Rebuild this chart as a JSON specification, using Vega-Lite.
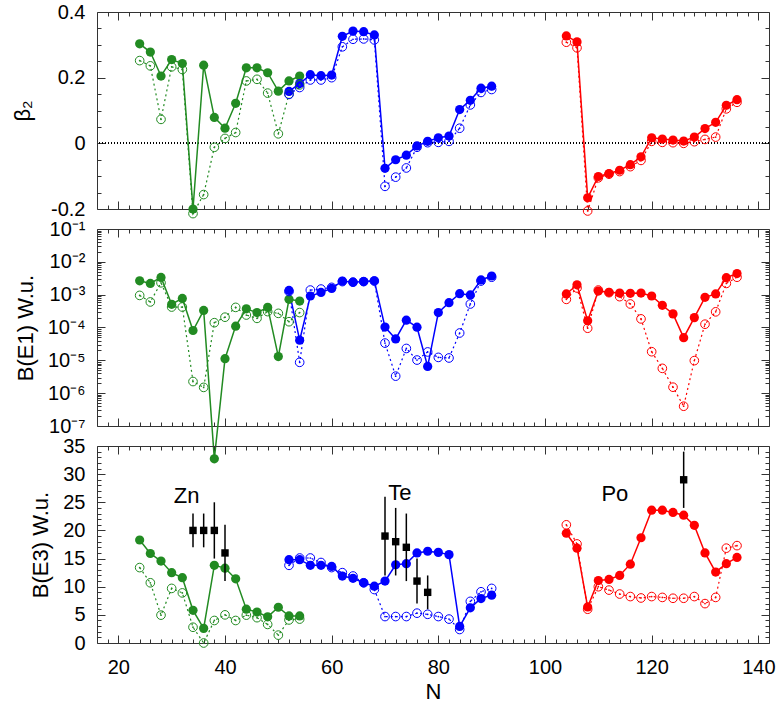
{
  "$schema": "https://vega.github.io/schema/vega-lite/v6.json",
  "padding": {"left": 11, "top": 1, "right": 5, "bottom": 5},
  "background": "white",
  "spacing": 20,
  "bounds": "flush",
  "config": {
    "view": {"stroke": "#333", "strokeWidth": 1},
    "axis": {"labelFont": "Liberation Sans", "titleFont": "Liberation Sans", "labelFontSize": 20, "titleFontSize": 22, "titleFontWeight": "normal", "labelColor": "black", "titleColor": "black", "tickColor": "#333", "domain": false, "grid": false},
    "text": {"font": "Liberation Sans"}
  },
  "datasets": {
    "calc": [
      {"iso":"Zn","t":"s","N":24,"b2":0.303,"e1":2.65e-3,"e3":18.3},
      {"iso":"Zn","t":"s","N":26,"b2":0.278,"e1":2.2e-3,"e3":15.9},
      {"iso":"Zn","t":"s","N":28,"b2":0.205,"e1":3.35e-3,"e3":14.55},
      {"iso":"Zn","t":"s","N":30,"b2":0.255,"e1":5.1e-4,"e3":12.5},
      {"iso":"Zn","t":"s","N":32,"b2":0.243,"e1":7.7e-4,"e3":11.6},
      {"iso":"Zn","t":"s","N":34,"b2":-0.2,"e1":8.1e-5,"e3":5.8},
      {"iso":"Zn","t":"s","N":36,"b2":0.238,"e1":3.3e-4,"e3":2.6},
      {"iso":"Zn","t":"s","N":38,"b2":0.079,"e1":1e-8,"e3":13.8},
      {"iso":"Zn","t":"s","N":40,"b2":0.046,"e1":1.12e-5,"e3":13.3},
      {"iso":"Zn","t":"s","N":42,"b2":0.122,"e1":1.1e-4,"e3":11.4},
      {"iso":"Zn","t":"s","N":44,"b2":0.23,"e1":3.7e-4,"e3":6.0},
      {"iso":"Zn","t":"s","N":46,"b2":0.23,"e1":2.85e-4,"e3":5.5},
      {"iso":"Zn","t":"s","N":48,"b2":0.215,"e1":4.1e-4,"e3":4.65},
      {"iso":"Zn","t":"s","N":50,"b2":0.159,"e1":1.3e-5,"e3":6.35},
      {"iso":"Zn","t":"s","N":52,"b2":0.19,"e1":7.2e-4,"e3":4.8},
      {"iso":"Zn","t":"s","N":54,"b2":0.205,"e1":6.4e-4,"e3":4.8},
      {"iso":"Zn","t":"o","N":24,"b2":0.252,"e1":9.5e-4,"e3":13.4},
      {"iso":"Zn","t":"o","N":26,"b2":0.236,"e1":6.0e-4,"e3":10.7},
      {"iso":"Zn","t":"o","N":28,"b2":0.073,"e1":2.3e-3,"e3":4.95},
      {"iso":"Zn","t":"o","N":30,"b2":0.233,"e1":4.2e-4,"e3":9.7},
      {"iso":"Zn","t":"o","N":32,"b2":0.225,"e1":4.2e-4,"e3":8.9},
      {"iso":"Zn","t":"o","N":34,"b2":-0.214,"e1":2.26e-6,"e3":2.8},
      {"iso":"Zn","t":"o","N":36,"b2":-0.156,"e1":1.5e-6,"e3":0.0},
      {"iso":"Zn","t":"o","N":38,"b2":-0.012,"e1":1.4e-4,"e3":4.0},
      {"iso":"Zn","t":"o","N":40,"b2":0.015,"e1":2.06e-4,"e3":5.0},
      {"iso":"Zn","t":"o","N":42,"b2":0.033,"e1":4.1e-4,"e3":4.0},
      {"iso":"Zn","t":"o","N":44,"b2":0.19,"e1":2.4e-4,"e3":4.95},
      {"iso":"Zn","t":"o","N":46,"b2":0.195,"e1":1.9e-4,"e3":4.5},
      {"iso":"Zn","t":"o","N":48,"b2":0.153,"e1":3.05e-4,"e3":3.3},
      {"iso":"Zn","t":"o","N":50,"b2":0.029,"e1":2.7e-4,"e3":1.4},
      {"iso":"Zn","t":"o","N":52,"b2":0.15,"e1":1.5e-4,"e3":4.1},
      {"iso":"Zn","t":"o","N":54,"b2":0.178,"e1":2.85e-4,"e3":4.25},
      {"iso":"Te","t":"s","N":52,"b2":0.158,"e1":1.35e-3,"e3":14.8},
      {"iso":"Te","t":"s","N":54,"b2":0.182,"e1":4.1e-5,"e3":14.8},
      {"iso":"Te","t":"s","N":56,"b2":0.209,"e1":9.1e-4,"e3":13.8},
      {"iso":"Te","t":"s","N":58,"b2":0.206,"e1":1.17e-3,"e3":13.8},
      {"iso":"Te","t":"s","N":60,"b2":0.208,"e1":1.55e-3,"e3":13.6},
      {"iso":"Te","t":"s","N":62,"b2":0.326,"e1":2.6e-3,"e3":11.9},
      {"iso":"Te","t":"s","N":64,"b2":0.342,"e1":2.4e-3,"e3":11.5},
      {"iso":"Te","t":"s","N":66,"b2":0.34,"e1":2.5e-3,"e3":10.7},
      {"iso":"Te","t":"s","N":68,"b2":0.33,"e1":2.65e-3,"e3":10.1},
      {"iso":"Te","t":"s","N":70,"b2":-0.076,"e1":1.03e-4,"e3":11.0},
      {"iso":"Te","t":"s","N":72,"b2":-0.05,"e1":4.5e-5,"e3":13.9},
      {"iso":"Te","t":"s","N":74,"b2":-0.036,"e1":1.67e-4,"e3":14.1},
      {"iso":"Te","t":"s","N":76,"b2":-0.008,"e1":1.02e-4,"e3":16.0},
      {"iso":"Te","t":"s","N":78,"b2":0.006,"e1":6.5e-6,"e3":16.3},
      {"iso":"Te","t":"s","N":80,"b2":0.017,"e1":2.85e-4,"e3":16.1},
      {"iso":"Te","t":"s","N":82,"b2":0.022,"e1":5.7e-4,"e3":15.7},
      {"iso":"Te","t":"s","N":84,"b2":0.103,"e1":1.07e-3,"e3":2.95},
      {"iso":"Te","t":"s","N":86,"b2":0.131,"e1":9.8e-4,"e3":6.25},
      {"iso":"Te","t":"s","N":88,"b2":0.168,"e1":2.8e-3,"e3":7.9},
      {"iso":"Te","t":"s","N":90,"b2":0.174,"e1":3.7e-3,"e3":8.5},
      {"iso":"Te","t":"o","N":52,"b2":0.149,"e1":1.25e-3,"e3":13.8},
      {"iso":"Te","t":"o","N":54,"b2":0.17,"e1":8.7e-6,"e3":15.1},
      {"iso":"Te","t":"o","N":56,"b2":0.193,"e1":1.38e-3,"e3":15.1},
      {"iso":"Te","t":"o","N":58,"b2":0.193,"e1":1.48e-3,"e3":14.3},
      {"iso":"Te","t":"o","N":60,"b2":0.2,"e1":1.67e-3,"e3":13.4},
      {"iso":"Te","t":"o","N":62,"b2":0.294,"e1":2.5e-3,"e3":12.5},
      {"iso":"Te","t":"o","N":64,"b2":0.317,"e1":2.4e-3,"e3":11.9},
      {"iso":"Te","t":"o","N":66,"b2":0.318,"e1":2.5e-3,"e3":10.7},
      {"iso":"Te","t":"o","N":68,"b2":0.315,"e1":2.6e-3,"e3":9.5},
      {"iso":"Te","t":"o","N":70,"b2":-0.131,"e1":3.35e-5,"e3":4.7},
      {"iso":"Te","t":"o","N":72,"b2":-0.103,"e1":3.3e-6,"e3":4.7},
      {"iso":"Te","t":"o","N":74,"b2":-0.075,"e1":2.3e-5,"e3":4.7},
      {"iso":"Te","t":"o","N":76,"b2":-0.012,"e1":1.02e-5,"e3":5.3},
      {"iso":"Te","t":"o","N":78,"b2":0.002,"e1":1.8e-5,"e3":5.1},
      {"iso":"Te","t":"o","N":80,"b2":0.003,"e1":1.23e-5,"e3":4.7},
      {"iso":"Te","t":"o","N":82,"b2":0.006,"e1":1.18e-5,"e3":4.25},
      {"iso":"Te","t":"o","N":84,"b2":0.046,"e1":6.8e-5,"e3":2.4},
      {"iso":"Te","t":"o","N":86,"b2":0.117,"e1":5.2e-4,"e3":7.4},
      {"iso":"Te","t":"o","N":88,"b2":0.155,"e1":2.6e-3,"e3":9.1},
      {"iso":"Te","t":"o","N":90,"b2":0.164,"e1":3.4e-3,"e3":9.7},
      {"iso":"Po","t":"s","N":104,"b2":0.327,"e1":1.05e-3,"e3":19.5},
      {"iso":"Po","t":"s","N":106,"b2":0.309,"e1":2.0e-3,"e3":16.85},
      {"iso":"Po","t":"s","N":108,"b2":-0.166,"e1":1.6e-4,"e3":6.4},
      {"iso":"Po","t":"s","N":110,"b2":-0.101,"e1":1.29e-3,"e3":11.1},
      {"iso":"Po","t":"s","N":112,"b2":-0.092,"e1":1.18e-3,"e3":11.3},
      {"iso":"Po","t":"s","N":114,"b2":-0.082,"e1":1.12e-3,"e3":12.0},
      {"iso":"Po","t":"s","N":116,"b2":-0.065,"e1":1.1e-3,"e3":14.0},
      {"iso":"Po","t":"s","N":118,"b2":-0.041,"e1":1.12e-3,"e3":18.7},
      {"iso":"Po","t":"s","N":120,"b2":0.017,"e1":9.1e-4,"e3":23.6},
      {"iso":"Po","t":"s","N":122,"b2":0.013,"e1":4.75e-4,"e3":23.6},
      {"iso":"Po","t":"s","N":124,"b2":0.01,"e1":2.6e-4,"e3":23.2},
      {"iso":"Po","t":"s","N":126,"b2":0.007,"e1":4.9e-5,"e3":22.7},
      {"iso":"Po","t":"s","N":128,"b2":0.019,"e1":2.0e-4,"e3":20.9},
      {"iso":"Po","t":"s","N":130,"b2":0.045,"e1":8.3e-4,"e3":16.0},
      {"iso":"Po","t":"s","N":132,"b2":0.064,"e1":1.05e-3,"e3":12.6},
      {"iso":"Po","t":"s","N":134,"b2":0.116,"e1":3.3e-3,"e3":14.1},
      {"iso":"Po","t":"s","N":136,"b2":0.133,"e1":4.4e-3,"e3":15.2},
      {"iso":"Po","t":"o","N":104,"b2":0.308,"e1":7.2e-4,"e3":21.0},
      {"iso":"Po","t":"o","N":106,"b2":0.291,"e1":1.6e-3,"e3":17.6},
      {"iso":"Po","t":"o","N":108,"b2":-0.206,"e1":9.5e-5,"e3":6.0},
      {"iso":"Po","t":"o","N":110,"b2":-0.105,"e1":1.38e-3,"e3":10.0},
      {"iso":"Po","t":"o","N":112,"b2":-0.094,"e1":1.15e-3,"e3":9.4},
      {"iso":"Po","t":"o","N":114,"b2":-0.086,"e1":8.7e-4,"e3":8.7},
      {"iso":"Po","t":"o","N":116,"b2":-0.071,"e1":5.2e-4,"e3":8.25},
      {"iso":"Po","t":"o","N":118,"b2":-0.052,"e1":1.83e-4,"e3":8.0},
      {"iso":"Po","t":"o","N":120,"b2":0.006,"e1":1.83e-5,"e3":8.25},
      {"iso":"Po","t":"o","N":122,"b2":0.003,"e1":5.7e-6,"e3":8.1},
      {"iso":"Po","t":"o","N":124,"b2":0.002,"e1":1.52e-6,"e3":7.95},
      {"iso":"Po","t":"o","N":126,"b2":0.0,"e1":4.0e-7,"e3":7.95},
      {"iso":"Po","t":"o","N":128,"b2":0.005,"e1":9.8e-6,"e3":8.25},
      {"iso":"Po","t":"o","N":130,"b2":0.012,"e1":1.26e-4,"e3":7.0},
      {"iso":"Po","t":"o","N":132,"b2":0.019,"e1":3.0e-4,"e3":8.1},
      {"iso":"Po","t":"o","N":134,"b2":0.105,"e1":2.2e-3,"e3":16.85},
      {"iso":"Po","t":"o","N":136,"b2":0.125,"e1":3.4e-3,"e3":17.3}
    ],
    "exp": [
      {"N":34,"v":20,"lo":17,"hi":23},
      {"N":36,"v":20,"lo":17,"hi":23},
      {"N":38,"v":20,"lo":15,"hi":25},
      {"N":40,"v":16,"lo":11,"hi":21},
      {"N":70,"v":19,"lo":12,"hi":26},
      {"N":72,"v":18,"lo":12,"hi":24},
      {"N":74,"v":17,"lo":11,"hi":23},
      {"N":76,"v":11,"lo":7,"hi":15},
      {"N":78,"v":9,"lo":6,"hi":12},
      {"N":126,"v":29,"lo":24,"hi":34}
    ],
    "lab": [
      {"N":32.8,"v":26.1,"txt":"Zn"},
      {"N":72.8,"v":26.6,"txt":"Te"},
      {"N":113.1,"v":26.4,"txt":"Po"}
    ]
  },
  "vconcat": [
    {
      "width": 672, "height": 197,
      "data": {"name": "calc"},
      "resolve": {"axis": {"x": "independent", "y": "independent"}},
      "layer": [
        {"mark": {"type": "rule", "strokeDash": [1, 2], "color": "black", "strokeWidth": 1},
         "encoding": {"y": {"datum": 0, "type": "quantitative", "axis": null}}},
        {"transform": [{"filter": "datum.t == 's'"}],
         "mark": {"type": "line", "strokeWidth": 1.5},
         "encoding": {
           "x": {"field": "N", "type": "quantitative", "scale": {"domain": [16, 142], "nice": false, "zero": false},
                 "axis": {"orient": "bottom", "values": [20,40,60,80,100,120,140], "tickSize": -8, "labels": false, "title": null}},
           "y": {"field": "b2", "type": "quantitative", "scale": {"domain": [-0.2, 0.4], "nice": false, "zero": false},
                 "axis": {"orient": "left", "values": [-0.2,0,0.2,0.4], "tickSize": -8, "labelPadding": 20, "title": "β₂", "titlePadding": 16,
                          "labelExpr": "datum.value == 0 ? '0' : (datum.value < 0 ? '-' + format(-datum.value, '.1f') : format(datum.value, '.1f'))"}},
           "color": {"field": "iso", "type": "nominal", "scale": {"domain": ["Zn","Te","Po"], "range": ["#228B22","#0000FF","#FF0000"]}, "legend": null}
         }},
        {"transform": [{"filter": "datum.t == 'o'"}],
         "mark": {"type": "line", "strokeWidth": 1.2, "strokeDash": [2, 3]},
         "encoding": {
           "x": {"field": "N", "type": "quantitative",
                 "axis": {"orient": "bottom", "values": [18,20,22,24,26,28,30,32,34,36,38,40,42,44,46,48,50,52,54,56,58,60,62,64,66,68,70,72,74,76,78,80,82,84,86,88,90,92,94,96,98,100,102,104,106,108,110,112,114,116,118,120,122,124,126,128,130,132,134,136,138,140], "tickSize": -4, "labels": false, "title": null}},
           "y": {"field": "b2", "type": "quantitative",
                 "axis": {"orient": "left", "values": [-0.15,-0.1,-0.05,0.05,0.1,0.15,0.25,0.3,0.35], "tickSize": -4, "labels": false, "title": null}},
           "color": {"field": "iso", "type": "nominal", "legend": null}
         }},
        {"transform": [{"filter": "datum.t == 's'"}],
         "mark": {"type": "point", "shape": "circle", "filled": true, "size": 85, "opacity": 1},
         "encoding": {
           "x": {"field": "N", "type": "quantitative",
                 "axis": {"orient": "top", "values": [20,40,60,80,100,120,140], "tickSize": -8, "labels": false, "title": null}},
           "y": {"field": "b2", "type": "quantitative",
                 "axis": {"orient": "right", "values": [-0.2,0,0.2,0.4], "tickSize": -8, "labels": false, "title": null}},
           "color": {"field": "iso", "type": "nominal", "legend": null}
         }},
        {"transform": [{"filter": "datum.t == 'o'"}],
         "mark": {"type": "point", "shape": "circle", "filled": false, "size": 75, "strokeWidth": 1, "opacity": 1},
         "encoding": {
           "x": {"field": "N", "type": "quantitative",
                 "axis": {"orient": "top", "values": [18,20,22,24,26,28,30,32,34,36,38,40,42,44,46,48,50,52,54,56,58,60,62,64,66,68,70,72,74,76,78,80,82,84,86,88,90,92,94,96,98,100,102,104,106,108,110,112,114,116,118,120,122,124,126,128,130,132,134,136,138,140], "tickSize": -4, "labels": false, "title": null}},
           "y": {"field": "b2", "type": "quantitative",
                 "axis": {"orient": "right", "values": [-0.15,-0.1,-0.05,0.05,0.1,0.15,0.25,0.3,0.35], "tickSize": -4, "labels": false, "title": null}},
           "color": {"field": "iso", "type": "nominal", "legend": null}
         }},
        {"transform": [{"filter": "datum.t == 'o'"}],
         "mark": {"type": "circle", "size": 3, "opacity": 1},
         "encoding": {
           "x": {"field": "N", "type": "quantitative", "axis": null},
           "y": {"field": "b2", "type": "quantitative", "axis": null},
           "color": {"field": "iso", "type": "nominal", "legend": null}
         }}
      ]
    },
    {
      "width": 672, "height": 197,
      "data": {"name": "calc"},
      "resolve": {"axis": {"x": "independent", "y": "independent"}},
      "layer": [
        {"transform": [{"filter": "datum.t == 's'"}],
         "mark": {"type": "line", "strokeWidth": 1.5},
         "encoding": {
           "x": {"field": "N", "type": "quantitative", "scale": {"domain": [16, 142], "nice": false, "zero": false},
                 "axis": {"orient": "bottom", "values": [20,40,60,80,100,120,140], "tickSize": -8, "labels": false, "title": null}},
           "y": {"field": "e1", "type": "quantitative", "scale": {"type": "log", "domain": [1e-7, 1e-1], "nice": false},
                 "axis": {"orient": "left", "values": [1e-7,1e-6,1e-5,1e-4,1e-3,1e-2,1e-1], "tickSize": -8, "labelPadding": 20, "title": "B(E1) W.u.", "titlePadding": 10,
                          "labelExpr": "['10⁻⁷','10⁻⁶','10⁻⁵','10⁻⁴','10⁻³','10⁻²','10⁻¹'][round(log(datum.value)/LN10) + 7]"}},
           "color": {"field": "iso", "type": "nominal", "scale": {"domain": ["Zn","Te","Po"], "range": ["#228B22","#0000FF","#FF0000"]}, "legend": null}
         }},
        {"transform": [{"filter": "datum.t == 'o'"}],
         "mark": {"type": "line", "strokeWidth": 1.2, "strokeDash": [2, 3]},
         "encoding": {
           "x": {"field": "N", "type": "quantitative",
                 "axis": {"orient": "bottom", "values": [18,20,22,24,26,28,30,32,34,36,38,40,42,44,46,48,50,52,54,56,58,60,62,64,66,68,70,72,74,76,78,80,82,84,86,88,90,92,94,96,98,100,102,104,106,108,110,112,114,116,118,120,122,124,126,128,130,132,134,136,138,140], "tickSize": -4, "labels": false, "title": null}},
           "y": {"field": "e1", "type": "quantitative",
                 "axis": {"orient": "left", "values": [2e-7,3e-7,4e-7,5e-7,6e-7,7e-7,8e-7,9e-7,2e-6,3e-6,4e-6,5e-6,6e-6,7e-6,8e-6,9e-6,2e-5,3e-5,4e-5,5e-5,6e-5,7e-5,8e-5,9e-5,2e-4,3e-4,4e-4,5e-4,6e-4,7e-4,8e-4,9e-4,2e-3,3e-3,4e-3,5e-3,6e-3,7e-3,8e-3,9e-3,2e-2,3e-2,4e-2,5e-2,6e-2,7e-2,8e-2,9e-2], "tickSize": -4, "labels": false, "title": null}},
           "color": {"field": "iso", "type": "nominal", "legend": null}
         }},
        {"transform": [{"filter": "datum.t == 's'"}],
         "mark": {"type": "point", "shape": "circle", "filled": true, "size": 85, "opacity": 1},
         "encoding": {
           "x": {"field": "N", "type": "quantitative",
                 "axis": {"orient": "top", "values": [20,40,60,80,100,120,140], "tickSize": -8, "labels": false, "title": null}},
           "y": {"field": "e1", "type": "quantitative",
                 "axis": {"orient": "right", "values": [1e-7,1e-6,1e-5,1e-4,1e-3,1e-2,1e-1], "tickSize": -8, "labels": false, "title": null}},
           "color": {"field": "iso", "type": "nominal", "legend": null}
         }},
        {"transform": [{"filter": "datum.t == 'o'"}],
         "mark": {"type": "point", "shape": "circle", "filled": false, "size": 75, "strokeWidth": 1, "opacity": 1},
         "encoding": {
           "x": {"field": "N", "type": "quantitative",
                 "axis": {"orient": "top", "values": [18,20,22,24,26,28,30,32,34,36,38,40,42,44,46,48,50,52,54,56,58,60,62,64,66,68,70,72,74,76,78,80,82,84,86,88,90,92,94,96,98,100,102,104,106,108,110,112,114,116,118,120,122,124,126,128,130,132,134,136,138,140], "tickSize": -4, "labels": false, "title": null}},
           "y": {"field": "e1", "type": "quantitative",
                 "axis": {"orient": "right", "values": [2e-7,3e-7,4e-7,5e-7,6e-7,7e-7,8e-7,9e-7,2e-6,3e-6,4e-6,5e-6,6e-6,7e-6,8e-6,9e-6,2e-5,3e-5,4e-5,5e-5,6e-5,7e-5,8e-5,9e-5,2e-4,3e-4,4e-4,5e-4,6e-4,7e-4,8e-4,9e-4,2e-3,3e-3,4e-3,5e-3,6e-3,7e-3,8e-3,9e-3,2e-2,3e-2,4e-2,5e-2,6e-2,7e-2,8e-2,9e-2], "tickSize": -4, "labels": false, "title": null}},
           "color": {"field": "iso", "type": "nominal", "legend": null}
         }},
        {"transform": [{"filter": "datum.t == 'o'"}],
         "mark": {"type": "circle", "size": 3, "opacity": 1},
         "encoding": {
           "x": {"field": "N", "type": "quantitative", "axis": null},
           "y": {"field": "e1", "type": "quantitative", "axis": null},
           "color": {"field": "iso", "type": "nominal", "legend": null}
         }}
      ]
    },
    {
      "width": 672, "height": 197,
      "resolve": {"axis": {"x": "independent", "y": "independent"}},
      "layer": [
        {"data": {"name": "calc"},
         "transform": [{"filter": "datum.t == 's'"}],
         "mark": {"type": "line", "strokeWidth": 1.5},
         "encoding": {
           "x": {"field": "N", "type": "quantitative", "scale": {"domain": [16, 142], "nice": false, "zero": false},
                 "axis": {"orient": "bottom", "values": [20,40,60,80,100,120,140], "tickSize": -8, "labelPadding": 22, "title": "N", "titlePadding": 4}},
           "y": {"field": "e3", "type": "quantitative", "scale": {"domain": [0, 35], "nice": false},
                 "axis": {"orient": "left", "values": [0,5,10,15,20,25,30,35], "tickSize": -8, "labelPadding": 20, "title": "B(E3) W.u.", "titlePadding": 10}},
           "color": {"field": "iso", "type": "nominal", "scale": {"domain": ["Zn","Te","Po"], "range": ["#228B22","#0000FF","#FF0000"]}, "legend": null}
         }},
        {"data": {"name": "calc"},
         "transform": [{"filter": "datum.t == 'o'"}],
         "mark": {"type": "line", "strokeWidth": 1.2, "strokeDash": [2, 3]},
         "encoding": {
           "x": {"field": "N", "type": "quantitative",
                 "axis": {"orient": "bottom", "values": [18,20,22,24,26,28,30,32,34,36,38,40,42,44,46,48,50,52,54,56,58,60,62,64,66,68,70,72,74,76,78,80,82,84,86,88,90,92,94,96,98,100,102,104,106,108,110,112,114,116,118,120,122,124,126,128,130,132,134,136,138,140], "tickSize": -4, "labels": false, "title": null}},
           "y": {"field": "e3", "type": "quantitative",
                 "axis": {"orient": "left", "values": [1,2,3,4,6,7,8,9,11,12,13,14,16,17,18,19,21,22,23,24,26,27,28,29,31,32,33,34], "tickSize": -4, "labels": false, "title": null}},
           "color": {"field": "iso", "type": "nominal", "legend": null}
         }},
        {"data": {"name": "calc"},
         "transform": [{"filter": "datum.t == 's'"}],
         "mark": {"type": "point", "shape": "circle", "filled": true, "size": 85, "opacity": 1},
         "encoding": {
           "x": {"field": "N", "type": "quantitative",
                 "axis": {"orient": "top", "values": [20,40,60,80,100,120,140], "tickSize": -8, "labels": false, "title": null}},
           "y": {"field": "e3", "type": "quantitative",
                 "axis": {"orient": "right", "values": [0,5,10,15,20,25,30,35], "tickSize": -8, "labels": false, "title": null}},
           "color": {"field": "iso", "type": "nominal", "legend": null}
         }},
        {"data": {"name": "calc"},
         "transform": [{"filter": "datum.t == 'o'"}],
         "mark": {"type": "point", "shape": "circle", "filled": false, "size": 75, "strokeWidth": 1, "opacity": 1},
         "encoding": {
           "x": {"field": "N", "type": "quantitative",
                 "axis": {"orient": "top", "values": [18,20,22,24,26,28,30,32,34,36,38,40,42,44,46,48,50,52,54,56,58,60,62,64,66,68,70,72,74,76,78,80,82,84,86,88,90,92,94,96,98,100,102,104,106,108,110,112,114,116,118,120,122,124,126,128,130,132,134,136,138,140], "tickSize": -4, "labels": false, "title": null}},
           "y": {"field": "e3", "type": "quantitative",
                 "axis": {"orient": "right", "values": [1,2,3,4,6,7,8,9,11,12,13,14,16,17,18,19,21,22,23,24,26,27,28,29,31,32,33,34], "tickSize": -4, "labels": false, "title": null}},
           "color": {"field": "iso", "type": "nominal", "legend": null}
         }},
        {"data": {"name": "calc"},
         "transform": [{"filter": "datum.t == 'o'"}],
         "mark": {"type": "circle", "size": 3, "opacity": 1},
         "encoding": {
           "x": {"field": "N", "type": "quantitative", "axis": null},
           "y": {"field": "e3", "type": "quantitative", "axis": null},
           "color": {"field": "iso", "type": "nominal", "legend": null}
         }},
        {"data": {"name": "exp"},
         "mark": {"type": "rule", "color": "black", "strokeWidth": 1.5},
         "encoding": {
           "x": {"field": "N", "type": "quantitative", "axis": null},
           "y": {"field": "lo", "type": "quantitative", "axis": null},
           "y2": {"field": "hi"}
         }},
        {"data": {"name": "exp"},
         "mark": {"type": "square", "color": "black", "size": 55, "opacity": 1},
         "encoding": {
           "x": {"field": "N", "type": "quantitative", "axis": null},
           "y": {"field": "v", "type": "quantitative", "axis": null}
         }},
        {"data": {"name": "lab"},
         "mark": {"type": "text", "fontSize": 22, "color": "black", "align": "center", "baseline": "middle"},
         "encoding": {
           "x": {"field": "N", "type": "quantitative", "axis": null},
           "y": {"field": "v", "type": "quantitative", "axis": null},
           "text": {"field": "txt"}
         }}
      ]
    }
  ]
}
